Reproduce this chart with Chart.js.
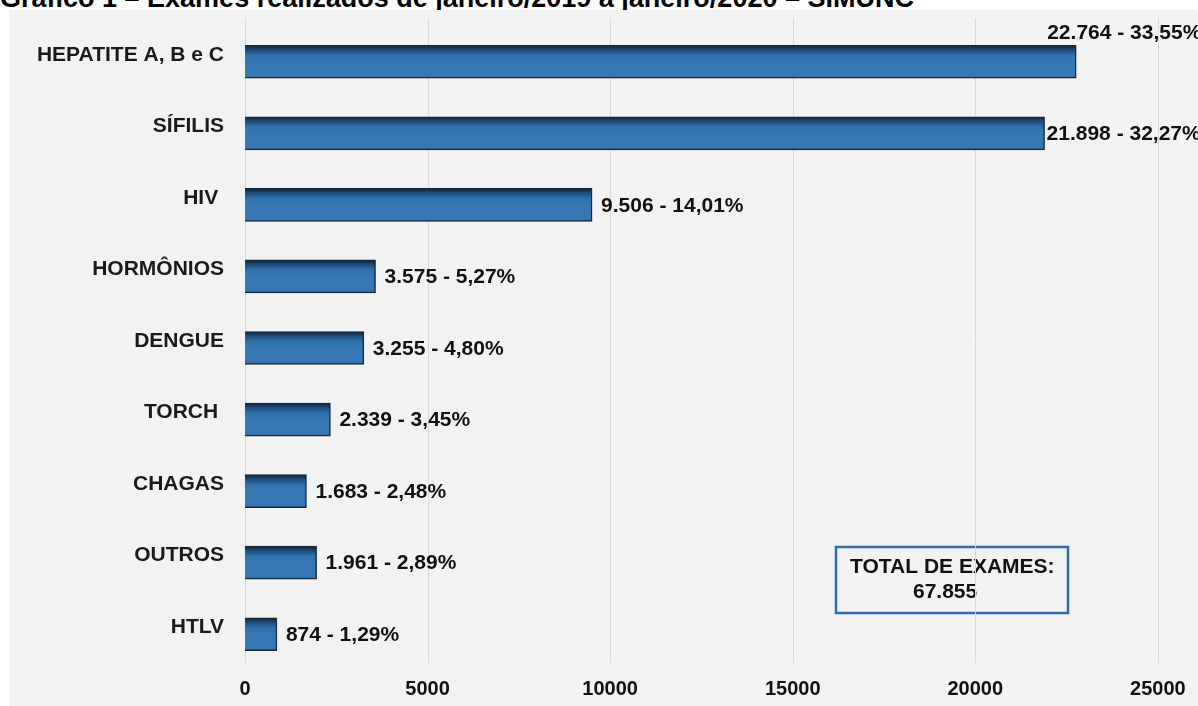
<!DOCTYPE html>
<html>
<head>
<meta charset="utf-8">
<script src="https://cdn.jsdelivr.net/npm/chart.js@4.4.0/dist/chart.umd.min.js"></script>
<style>
  html, body { margin: 0; padding: 0; background: #fff; overflow: hidden; }
  #title {
    position: absolute; left: 0; top: -15px; margin: 0;
    font: bold 27px 'Liberation Sans', Arial, sans-serif; line-height: 1;
    color: #000; white-space: nowrap;
  }
  #wrap {
    position: absolute; left: 9px; top: 10px; width: 1189px; height: 696px;
    background: #f2f2f2; z-index: 1;
  }
</style>
</head>
<body>
<div id="title">Gráfico 1 – Exames realizados de janeiro/2019 a janeiro/2020 – SIMUNC</div>
<div id="wrap"><canvas id="examChart" width="1189" height="696"></canvas></div>
<script>
const categories = ['HEPATITE A, B e C', 'SÍFILIS', 'HIV ', 'HORMÔNIOS', 'DENGUE', 'TORCH ', 'CHAGAS', 'OUTROS', 'HTLV'];
const examCounts = [22764, 21898, 9506, 3575, 3255, 2339, 1683, 1961, 874];
const examPercents = [33.55, 32.27, 14.01, 5.27, 4.80, 3.45, 2.48, 2.89, 1.29];
const xTicks = [0, 5000, 10000, 15000, 20000, 25000];
const totalExams = 67855;

const FONT = "'Liberation Sans', Arial, sans-serif";

// 22764 -> "22.764", 33.55 -> "33,55%"
function fmtInt(n) {
  return String(n).replace(/\B(?=(\d{3})+(?!\d))/g, '.');
}
function fmtPct(p) {
  return p.toFixed(2).replace('.', ',') + '%';
}

const gridPlugin = {
  id: 'gridAndBox',
  beforeDatasetsDraw(chart) {
    const ctx = chart.ctx;
    const x = chart.scales.x;

    // total box (sits under the gridlines)
    ctx.save();
    ctx.strokeStyle = '#2f6bb0';
    ctx.lineWidth = 2.5;
    ctx.strokeRect(827, 537, 232, 66);
    ctx.fillStyle = '#111';
    ctx.font = 'bold 21px ' + FONT;
    ctx.textBaseline = 'middle';
    ctx.textAlign = 'left';
    ctx.fillText('TOTAL DE EXAMES:', 841, 557);
    ctx.fillText(fmtInt(totalExams), 904, 582);
    ctx.restore();

    // gridlines a bit taller than the chart area, like the original
    ctx.save();
    ctx.strokeStyle = '#d9d9d9';
    ctx.lineWidth = 1;
    xTicks.forEach(v => {
      const px = Math.round(x.getPixelForValue(v)) + 0.5;
      ctx.beginPath();
      ctx.moveTo(px, 8);
      ctx.lineTo(px, 653);
      ctx.stroke();
    });
    ctx.restore();
  },
  afterDatasetsDraw(chart) {
    const ctx = chart.ctx;
    const bars = chart.getDatasetMeta(0).data;
    ctx.save();
    ctx.fillStyle = '#111';
    ctx.font = 'bold 21px ' + FONT;
    ctx.textBaseline = 'middle';
    ctx.textAlign = 'left';
    bars.forEach((bar, i) => {
      const txt = fmtInt(examCounts[i]) + ' - ' + fmtPct(examPercents[i]);
      let lx = bar.x + 9;
      let ly = bar.y + 1;
      if (i === 0) { lx = bar.x - 29; ly = bar.y - 29; }   // moved above the bar
      if (i === 1) { lx = bar.x + 2; }                     // squeezed against the edge
      ctx.fillText(txt, lx, ly);
    });
    ctx.restore();
  }
};

function barGradient(context) {
  const chart = context.chart;
  const y = chart.scales.y;
  if (!y || !chart.chartArea) return '#3676b3';
  const c = y.getPixelForValue(context.dataIndex);
  const g = chart.ctx.createLinearGradient(0, c - 16.5, 0, c + 16.5);
  g.addColorStop(0, '#10233a');
  g.addColorStop(0.12, '#1d4670');
  g.addColorStop(0.3, '#3070ab');
  g.addColorStop(0.5, '#3777b4');
  g.addColorStop(1, '#3676b3');
  return g;
}

new Chart(document.getElementById('examChart'), {
  type: 'bar',
  data: {
    labels: categories,
    datasets: [{
      data: examCounts,
      backgroundColor: barGradient,
      borderColor: '#15283d',
      borderWidth: 1.5,
      barThickness: 33
    }]
  },
  options: {
    indexAxis: 'y',
    responsive: false,
    animation: false,
    layout: { padding: { top: 16, right: 0, left: 0, bottom: 0 } },
    plugins: { legend: { display: false }, tooltip: { enabled: false } },
    scales: {
      x: {
        min: 0,
        max: 26100,
        afterBuildTicks(scale) {
          scale.ticks = xTicks.map(v => ({ value: v }));
        },
        afterFit(scale) {
          scale.height = 36;
          scale.paddingLeft = 0;
          scale.paddingRight = 0;
        },
        grid: { display: false, drawTicks: false },
        border: { display: false },
        ticks: {
          padding: 7,
          maxRotation: 0,
          color: '#111',
          callback: v => String(v),
          font: { family: FONT, size: 20, weight: 'bold' }
        }
      },
      y: {
        afterFit(scale) {
          scale.width = 236;
          scale.paddingTop = 0;
          scale.paddingBottom = 0;
        },
        grid: { display: false, drawTicks: false },
        border: { display: false },
        ticks: {
          padding: 21,
          labelOffset: -7,
          color: '#1a1a1a',
          font: { family: FONT, size: 21, weight: 'bold' }
        }
      }
    }
  },
  plugins: [gridPlugin]
});
</script>
</body>
</html>
